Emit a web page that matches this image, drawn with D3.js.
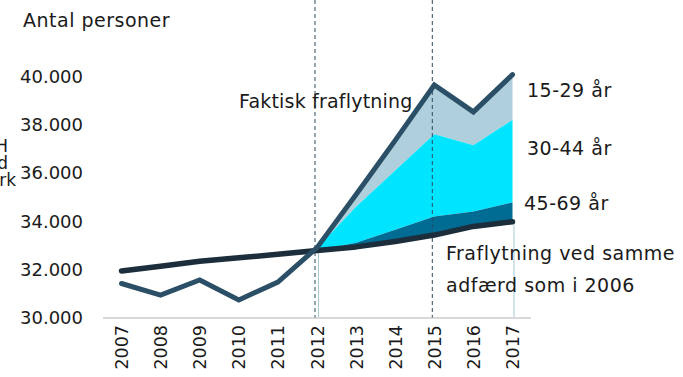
<!DOCTYPE html>
<html>
<head>
<meta charset="utf-8">
<script src="https://cdn.jsdelivr.net/npm/d3@7"></script>
<style>
  html, body { margin: 0; padding: 0; background: #fff; }
  svg text { font-family: "DejaVu Sans", sans-serif; fill: #1a1a1a; }
</style>
</head>
<body>
<svg id="chart" width="683" height="377"></svg>
<script>
// Years on the x axis
const years = ["2007","2008","2009","2010","2011","2012","2013","2014","2015","2016","2017"];
// Actual number of people moving away
const actual = [31410, 30930, 31560, 30730, 31470, 32900, 35100, 37350, 39650, 38530, 40080];
// Moving away with the same behaviour as in 2006
const baseline = [31930, 32130, 32330, 32480, 32620, 32780, 32930, 33150, 33420, 33780, 33975];
// Extra departures by age group from 2012 on (added on top of the baseline)
const stackYears = ["2012","2013","2014","2015","2016","2017"];
const extra4569 = [0, 170, 490, 770, 620, 795];
const extra3044 = [100, 1500, 2460, 3410, 2750, 3430];
// Y axis ticks
const yTicks = [30000, 32000, 34000, 36000, 38000, 40000];
// Years marked with a dashed line
const markedYears = ["2012", "2015"];

const svg = d3.select("#chart");
const fmt = d3.format(",.0f");
const tickFmt = v => fmt(v).replace(/,/g, ".");

const x = d3.scalePoint().domain(years).range([121.5, 512.5]);
const y = d3.scaleLinear().domain([30000, 40000]).range([317.5, 76.5]);

const idx = yr => years.indexOf(yr);

// layered rows for the age-group areas
const rows = stackYears.map((yr, i) => {
  const b = baseline[idx(yr)];
  const t45 = b + extra4569[i];
  const t30 = t45 + extra3044[i];
  return { year: yr, base: b, t45: t45, t30: t30, top: actual[idx(yr)] };
});

const area = (lo, hi) => d3.area()
  .x(d => x(d.year)).y0(d => y(d[lo])).y1(d => y(d[hi]));

svg.append("path").datum(rows).attr("d", area("t30", "top")).attr("fill", "#aecfdb");
svg.append("path").datum(rows).attr("d", area("t45", "t30")).attr("fill", "#00e5ff");
svg.append("path").datum(rows).attr("d", area("base", "t45")).attr("fill", "#006c94");

// drop lines at the first and last year of the areas
const dropYears = [stackYears[0], stackYears[stackYears.length - 1]];
svg.selectAll(".drop").data(dropYears).enter().append("line")
  .attr("x1", d => x(d) + 1.5).attr("x2", d => x(d) + 1.5)
  .attr("y1", d => y(baseline[idx(d)])).attr("y2", y(30000))
  .attr("stroke", "#a9c7d1").attr("stroke-width", 1);

// x axis line
svg.append("line")
  .attr("x1", 103).attr("x2", 531)
  .attr("y1", y(30000) + 0.5).attr("y2", y(30000) + 0.5)
  .attr("stroke", "#d9d9d9").attr("stroke-width", 2);

// dashed markers
svg.selectAll(".mark").data(markedYears).enter().append("line")
  .attr("x1", d => x(d) - 2).attr("x2", d => x(d) - 2)
  .attr("y1", 0).attr("y2", y(30000))
  .attr("stroke", "#2b4a61").attr("stroke-width", 1)
  .attr("stroke-dasharray", "4,3");

const line = d3.line().x((d, i) => x(years[i])).y(d => y(d));

svg.append("path").datum(baseline).attr("d", line)
  .attr("fill", "none").attr("stroke", "#1c2e3b").attr("stroke-width", 5.5)
  .attr("stroke-linecap", "round").attr("stroke-linejoin", "round");

svg.append("path").datum(actual).attr("d", line)
  .attr("fill", "none").attr("stroke", "#2b4f66").attr("stroke-width", 5)
  .attr("stroke-linecap", "round").attr("stroke-linejoin", "miter");

// y tick labels
svg.selectAll(".ytick").data(yTicks).enter().append("text")
  .attr("x", 83).attr("y", d => y(d) + 6.5)
  .attr("text-anchor", "end").attr("font-size", 18)
  .text(tickFmt);

// x tick labels (rotated)
svg.selectAll(".xtick").data(years).enter().append("text")
  .attr("transform", d => `translate(${x(d) + 6.5},325) rotate(-90)`)
  .attr("text-anchor", "end").attr("font-size", 17.5)
  .text(d => d);

// titles and labels
const label = (txt, lx, ly, ls) => svg.append("text")
  .attr("x", lx).attr("y", ly).attr("font-size", 19)
  .attr("letter-spacing", ls).text(txt);

label("Antal personer", 23, 27, 0.5);
label("Faktisk fraflytning", 239, 108, 0.2);
label("15-29 år", 527, 97, 0.5);
label("30-44 år", 527, 155, 0.5);
label("45-69 år", 524, 210, 0.5);
label("Fraflytning ved samme", 446, 260, 0.5);
label("adfærd som i 2006", 446, 292, 0.5);

// side caption, clipped by the left edge
[["H", 8, 152], ["d", 8, 169], ["rk", 16, 186]].forEach(([t, lx, ly]) =>
  svg.append("text").attr("x", lx).attr("y", ly).attr("text-anchor", "end")
    .attr("font-size", 17).text(t));
</script>
</body>
</html>
